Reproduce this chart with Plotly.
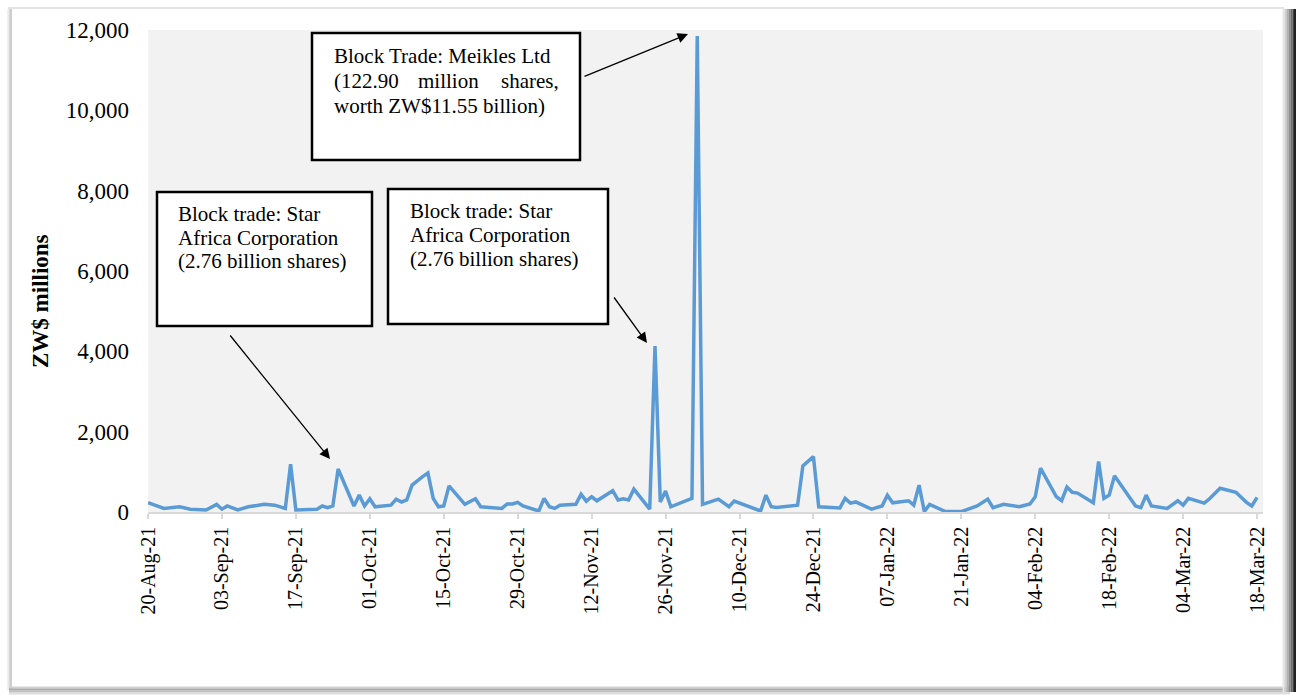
import plotly.graph_objects as go

dates = [
    "2021-08-20", "2021-08-23", "2021-08-26", "2021-08-28", "2021-08-31",
    "2021-09-02", "2021-09-03", "2021-09-04", "2021-09-06", "2021-09-08",
    "2021-09-11", "2021-09-13", "2021-09-15", "2021-09-16", "2021-09-17",
    "2021-09-21", "2021-09-22", "2021-09-23", "2021-09-24", "2021-09-25",
    "2021-09-28", "2021-09-29", "2021-09-30", "2021-10-01", "2021-10-02",
    "2021-10-05", "2021-10-06", "2021-10-07", "2021-10-08", "2021-10-09",
    "2021-10-11", "2021-10-12", "2021-10-13", "2021-10-14", "2021-10-15",
    "2021-10-16", "2021-10-19", "2021-10-21", "2021-10-22", "2021-10-26",
    "2021-10-27", "2021-10-28", "2021-10-29", "2021-10-30", "2021-11-02",
    "2021-11-03", "2021-11-04", "2021-11-05", "2021-11-06", "2021-11-09",
    "2021-11-10", "2021-11-11", "2021-11-12", "2021-11-13", "2021-11-16",
    "2021-11-17", "2021-11-18", "2021-11-19", "2021-11-20", "2021-11-23",
    "2021-11-24", "2021-11-25", "2021-11-26", "2021-11-27", "2021-12-01",
    "2021-12-02", "2021-12-03", "2021-12-06", "2021-12-08", "2021-12-09",
    "2021-12-14", "2021-12-15", "2021-12-16", "2021-12-17", "2021-12-21",
    "2021-12-22", "2021-12-24", "2021-12-25", "2021-12-29", "2021-12-30",
    "2021-12-31", "2022-01-01", "2022-01-04", "2022-01-06", "2022-01-07",
    "2022-01-08", "2022-01-11", "2022-01-12", "2022-01-13", "2022-01-14",
    "2022-01-15", "2022-01-18", "2022-01-21", "2022-01-24", "2022-01-26",
    "2022-01-27", "2022-01-29", "2022-02-01", "2022-02-03", "2022-02-04",
    "2022-02-05", "2022-02-08", "2022-02-09", "2022-02-10", "2022-02-11",
    "2022-02-12", "2022-02-15", "2022-02-16", "2022-02-17", "2022-02-18",
    "2022-02-19", "2022-02-23", "2022-02-24", "2022-02-25", "2022-02-26",
    "2022-03-01", "2022-03-03", "2022-03-04", "2022-03-05", "2022-03-08",
    "2022-03-09", "2022-03-11", "2022-03-14", "2022-03-16", "2022-03-17",
    "2022-03-18",
]

values = [
    230, 90, 130, 70, 50,
    190, 70, 150, 50, 130,
    190, 170, 90, 1190, 50,
    70, 150, 110, 150, 1070,
    150, 420, 150, 330, 130,
    170, 320, 250, 300, 670,
    880, 970, 340, 130, 150,
    650, 190, 330, 130, 90,
    200, 200, 240, 150, 25,
    340, 130, 90, 170, 190,
    440, 270, 380, 280, 530,
    300, 330, 300, 570, 70,
    4130, 250, 520, 130, 340,
    11850, 190, 320, 130, 270,
    25, 420, 130, 110, 170,
    1150, 1380, 130, 100, 340,
    220, 250, 70, 150, 420,
    230, 280, 170, 670, 10,
    190, 10, 10, 150, 320,
    110, 190, 130, 200, 380,
    1090, 380, 280, 620, 490,
    470, 230, 1260, 340, 420,
    900, 150, 110, 420, 150,
    90, 280, 170, 340, 220,
    330, 590, 490, 240, 150,
    365,
]

y_ticks = [0, 2000, 4000, 6000, 8000, 10000, 12000]

box_texts = [
    ["Block trade: Star", "Africa Corporation", "(2.76 billion shares)"],
    ["Block trade: Star", "Africa Corporation", "(2.76 billion shares)"],
]
meikles_line1 = "Block Trade: Meikles Ltd"
meikles_line2 = ["(122.90", "million", "shares,"]
meikles_line3 = "worth ZW$11.55 billion)"

FONT = "Liberation Serif, Times New Roman, serif"

# plot area in pixels
L, R, T, B = 148, 1263, 30, 512
W, H = 1300, 695


def px(x):
    return (x - L) / (R - L)


def py(y):
    return (B - y) / (B - T)


fig = go.Figure()
fig.add_trace(go.Scatter(
    x=dates, y=values, mode="lines",
    line=dict(color="#5B9BD5", width=3.5),
    hoverinfo="x+y",
))

shapes = []
annotations = []

# outer frame with bevel/shadow
shapes.append(dict(type="line", xref="paper", yref="paper",
                   x0=px(8), x1=px(1284), y0=py(8), y1=py(8),
                   line=dict(color="#E3E3E3", width=2), layer="below"))
for xx, col in [(8, "#EEEEEE"), (9.5, "#DADADA"), (11, "#C2C2C2")]:
    shapes.append(dict(type="line", xref="paper", yref="paper",
                       x0=px(xx), x1=px(xx), y0=py(9), y1=py(690),
                       line=dict(color=col, width=1.6), layer="below"))
for yy, col in [(687.5, "#D0D0D0"), (689.5, "#A8A8A8"), (691.5, "#BDBDBD"), (693.5, "#DDDDDD")]:
    shapes.append(dict(type="line", xref="paper", yref="paper",
                       x0=px(9), x1=px(1290), y0=py(yy), y1=py(yy),
                       line=dict(color=col, width=2), layer="below"))
for xx, col in [(1283.5, "#E6E6E6"), (1285.5, "#CFCFCF"), (1287.5, "#B0B0B0"),
                (1289.5, "#8E8E8E"), (1291.5, "#6A6A6A"), (1293.5, "#444444"),
                (1295, "#222222")]:
    shapes.append(dict(type="line", xref="paper", yref="paper",
                       x0=px(xx), x1=px(xx), y0=py(9), y1=py(692),
                       line=dict(color=col, width=2), layer="below"))

# annotation boxes
boxes = [(157, 192, 372, 326), (388, 189, 608, 324), (312, 33, 580, 160)]
for (x0, y0, x1, y1) in boxes:
    shapes.append(dict(type="rect", xref="paper", yref="paper",
                       x0=px(x0), x1=px(x1), y0=py(y0), y1=py(y1),
                       line=dict(color="black", width=2.5), fillcolor="white",
                       layer="above"))

TXT = dict(family=FONT, size=21, color="black")

# box 1 and box 2 text lines
for lines, (lx, ys) in zip(box_texts, [(176, [214, 238, 261]), (408, [211, 235, 259])]):
    for t, yy in zip(lines, ys):
        annotations.append(dict(xref="paper", yref="paper", x=px(lx), y=py(yy),
                                text=t, showarrow=False, xanchor="left",
                                yanchor="middle", font=TXT))

# box 3 (justified)
annotations.append(dict(xref="paper", yref="paper", x=px(332), y=py(56),
                        text=meikles_line1, showarrow=False, xanchor="left",
                        yanchor="middle", font=TXT))
for t, xx, anc in zip(meikles_line2, [332, 448, 561], ["left", "center", "right"]):
    annotations.append(dict(xref="paper", yref="paper", x=px(xx), y=py(81),
                            text=t, showarrow=False, xanchor=anc,
                            yanchor="middle", font=TXT))
annotations.append(dict(xref="paper", yref="paper", x=px(332), y=py(106),
                        text=meikles_line3, showarrow=False, xanchor="left",
                        yanchor="middle", font=TXT))

# arrows (tip, tail)
arrows = [((330, 459), (229, 334)), ((647, 343), (613, 296)), ((688, 34), (583, 77))]
for (tx, ty), (sx, sy) in arrows:
    annotations.append(dict(xref="paper", yref="paper", x=px(tx), y=py(ty),
                            ax=sx - tx, ay=sy - ty, axref="pixel", ayref="pixel",
                            text="", showarrow=True, arrowhead=2, arrowsize=1.6,
                            arrowwidth=1.3, arrowcolor="black", standoff=0))

# y-axis title
annotations.append(dict(xref="paper", yref="paper", x=px(40), y=py(301),
                        text="<b>ZW$ millions</b>", textangle=-90, showarrow=False,
                        xanchor="center", yanchor="middle",
                        font=dict(family=FONT, size=23, color="black")))

fig.update_layout(
    width=W, height=H,
    margin=dict(l=L, r=W - R, t=T, b=H - B, pad=0),
    paper_bgcolor="white",
    plot_bgcolor="#F2F2F2",
    showlegend=False,
    shapes=shapes,
    annotations=annotations,
    xaxis=dict(
        type="date",
        range=["2021-08-20", "2022-03-19 03:00"],
        tick0="2021-08-20", dtick=14 * 86400000,
        tickformat="%d-%b-%y", tickangle=-90,
        tickfont=dict(family=FONT, size=20, color="black"),
        showgrid=False, zeroline=False,
        showline=True, linecolor="#D9D9D9", linewidth=1.5,
        ticks="outside", ticklen=5, tickcolor="#D9D9D9", tickwidth=1.5,
    ),
    yaxis=dict(
        range=[0, 12000], tickvals=y_ticks, tickformat=",d",
        tickfont=dict(family=FONT, size=23, color="black"),
        showgrid=False, zeroline=False, showline=False,
        ticks="", ticklabelstandoff=18,
    ),
)

fig.write_html("out.html")
